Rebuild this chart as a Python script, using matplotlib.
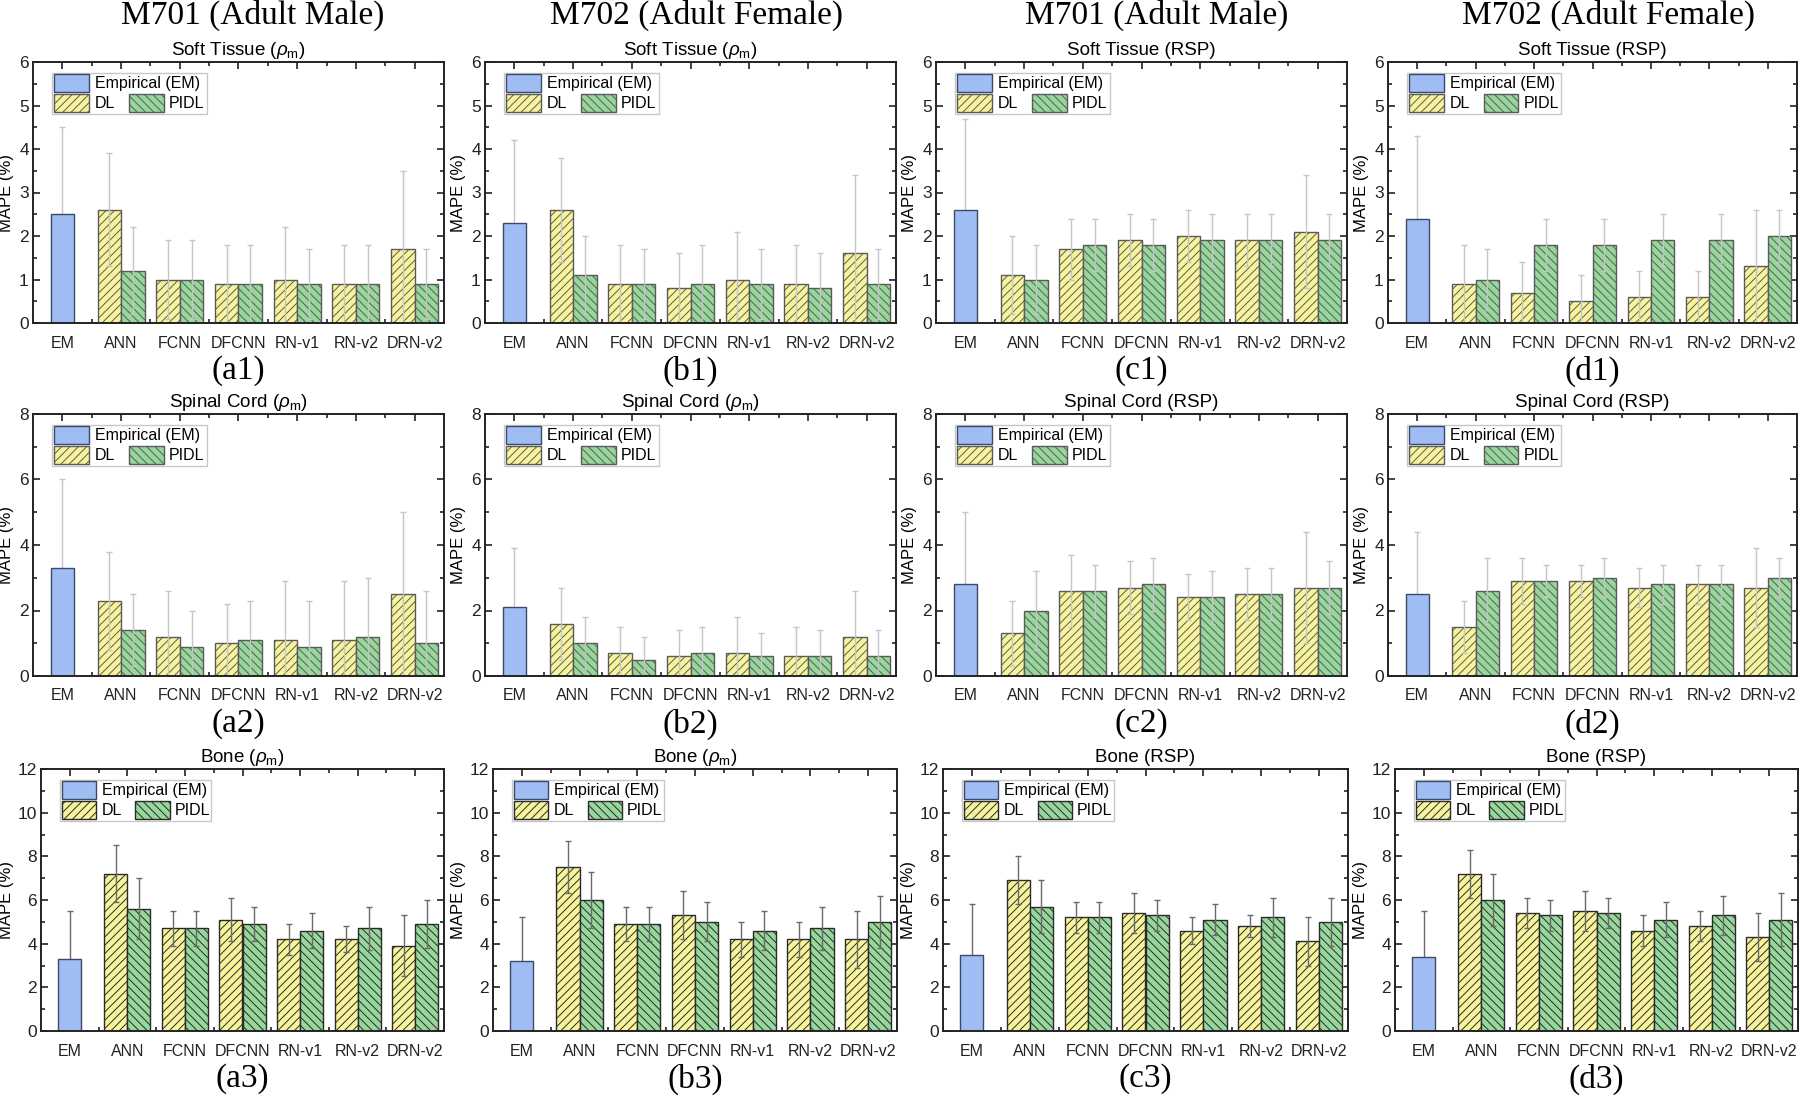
import matplotlib
matplotlib.use("Agg")
import matplotlib.pyplot as plt
from matplotlib.patches import Rectangle
from matplotlib.ticker import MultipleLocator, FixedLocator
import numpy as np

plt.rcParams['font.family'] = ['Liberation Sans', 'DejaVu Sans']
plt.rcParams['mathtext.fontset'] = 'custom'
plt.rcParams['mathtext.rm'] = 'Liberation Sans'
plt.rcParams['mathtext.it'] = 'Liberation Sans:italic'
plt.rcParams['hatch.linewidth'] = 0.7

# ---------------- data ----------------
categories = ["EM", "ANN", "FCNN", "DFCNN", "RN-v1", "RN-v2", "DRN-v2"]
column_titles = ["M701 (Adult Male)", "M702 (Adult Female)",
                 "M701 (Adult Male)", "M702 (Adult Female)"]
panel_titles = [
    [r"Soft Tissue ($\rho_\mathrm{m}$)", r"Soft Tissue ($\rho_\mathrm{m}$)", "Soft Tissue (RSP)", "Soft Tissue (RSP)"],
    [r"Spinal Cord ($\rho_\mathrm{m}$)", r"Spinal Cord ($\rho_\mathrm{m}$)", "Spinal Cord (RSP)", "Spinal Cord (RSP)"],
    [r"Bone ($\rho_\mathrm{m}$)", r"Bone ($\rho_\mathrm{m}$)", "Bone (RSP)", "Bone (RSP)"],
]
panel_labels = [["(a1)", "(b1)", "(c1)", "(d1)"],
                ["(a2)", "(b2)", "(c2)", "(d2)"],
                ["(a3)", "(b3)", "(c3)", "(d3)"]]

# Row 1: soft tissue
a1_em, a1_em_err = [2.5], [2.0]
a1_dl = [2.6, 1.0, 0.9, 1.0, 0.9, 1.7]
a1_dl_err = [1.3, 0.9, 0.9, 1.2, 0.9, 1.8]
a1_pidl = [1.2, 1.0, 0.9, 0.9, 0.9, 0.9]
a1_pidl_err = [1.0, 0.9, 0.9, 0.8, 0.9, 0.8]

b1_em, b1_em_err = [2.3], [1.9]
b1_dl = [2.6, 0.9, 0.8, 1.0, 0.9, 1.6]
b1_dl_err = [1.2, 0.9, 0.8, 1.1, 0.9, 1.8]
b1_pidl = [1.1, 0.9, 0.9, 0.9, 0.8, 0.9]
b1_pidl_err = [0.9, 0.8, 0.9, 0.8, 0.8, 0.8]

c1_em, c1_em_err = [2.6], [2.1]
c1_dl = [1.1, 1.7, 1.9, 2.0, 1.9, 2.1]
c1_dl_err = [0.9, 0.7, 0.6, 0.6, 0.6, 1.3]
c1_pidl = [1.0, 1.8, 1.8, 1.9, 1.9, 1.9]
c1_pidl_err = [0.8, 0.6, 0.6, 0.6, 0.6, 0.6]

d1_em, d1_em_err = [2.4], [1.9]
d1_dl = [0.9, 0.7, 0.5, 0.6, 0.6, 1.3]
d1_dl_err = [0.9, 0.7, 0.6, 0.6, 0.6, 1.3]
d1_pidl = [1.0, 1.8, 1.8, 1.9, 1.9, 2.0]
d1_pidl_err = [0.7, 0.6, 0.6, 0.6, 0.6, 0.6]

# Row 2: spinal cord
a2_em, a2_em_err = [3.3], [2.7]
a2_dl = [2.3, 1.2, 1.0, 1.1, 1.1, 2.5]
a2_dl_err = [1.5, 1.4, 1.2, 1.8, 1.8, 2.5]
a2_pidl = [1.4, 0.9, 1.1, 0.9, 1.2, 1.0]
a2_pidl_err = [1.1, 1.1, 1.2, 1.4, 1.8, 1.6]

b2_em, b2_em_err = [2.1], [1.8]
b2_dl = [1.6, 0.7, 0.6, 0.7, 0.6, 1.2]
b2_dl_err = [1.1, 0.8, 0.8, 1.1, 0.9, 1.4]
b2_pidl = [1.0, 0.5, 0.7, 0.6, 0.6, 0.6]
b2_pidl_err = [0.8, 0.7, 0.8, 0.7, 0.8, 0.8]

c2_em, c2_em_err = [2.8], [2.2]
c2_dl = [1.3, 2.6, 2.7, 2.4, 2.5, 2.7]
c2_dl_err = [1.0, 1.1, 0.8, 0.7, 0.8, 1.7]
c2_pidl = [2.0, 2.6, 2.8, 2.4, 2.5, 2.7]
c2_pidl_err = [1.2, 0.8, 0.8, 0.8, 0.8, 0.8]

d2_em, d2_em_err = [2.5], [1.9]
d2_dl = [1.5, 2.9, 2.9, 2.7, 2.8, 2.7]
d2_dl_err = [0.8, 0.7, 0.5, 0.6, 0.6, 1.2]
d2_pidl = [2.6, 2.9, 3.0, 2.8, 2.8, 3.0]
d2_pidl_err = [1.0, 0.5, 0.6, 0.6, 0.6, 0.6]

# Row 3: bone
a3_em, a3_em_err = [3.3], [2.2]
a3_dl = [7.2, 4.7, 5.1, 4.2, 4.2, 3.9]
a3_dl_err = [1.3, 0.8, 1.0, 0.7, 0.6, 1.4]
a3_pidl = [5.6, 4.7, 4.9, 4.6, 4.7, 4.9]
a3_pidl_err = [1.4, 0.8, 0.8, 0.8, 1.0, 1.1]

b3_em, b3_em_err = [3.2], [2.0]
b3_dl = [7.5, 4.9, 5.3, 4.2, 4.2, 4.2]
b3_dl_err = [1.2, 0.8, 1.1, 0.8, 0.8, 1.3]
b3_pidl = [6.0, 4.9, 5.0, 4.6, 4.7, 5.0]
b3_pidl_err = [1.3, 0.8, 0.9, 0.9, 1.0, 1.2]

c3_em, c3_em_err = [3.5], [2.3]
c3_dl = [6.9, 5.2, 5.4, 4.6, 4.8, 4.1]
c3_dl_err = [1.1, 0.7, 0.9, 0.6, 0.5, 1.1]
c3_pidl = [5.7, 5.2, 5.3, 5.1, 5.2, 5.0]
c3_pidl_err = [1.2, 0.7, 0.7, 0.7, 0.9, 1.1]

d3_em, d3_em_err = [3.4], [2.1]
d3_dl = [7.2, 5.4, 5.5, 4.6, 4.8, 4.3]
d3_dl_err = [1.1, 0.7, 0.9, 0.7, 0.7, 1.1]
d3_pidl = [6.0, 5.3, 5.4, 5.1, 5.3, 5.1]
d3_pidl_err = [1.2, 0.7, 0.7, 0.8, 0.9, 1.2]

panels = [
    [(a1_em, a1_em_err, a1_dl, a1_dl_err, a1_pidl, a1_pidl_err),
     (b1_em, b1_em_err, b1_dl, b1_dl_err, b1_pidl, b1_pidl_err),
     (c1_em, c1_em_err, c1_dl, c1_dl_err, c1_pidl, c1_pidl_err),
     (d1_em, d1_em_err, d1_dl, d1_dl_err, d1_pidl, d1_pidl_err)],
    [(a2_em, a2_em_err, a2_dl, a2_dl_err, a2_pidl, a2_pidl_err),
     (b2_em, b2_em_err, b2_dl, b2_dl_err, b2_pidl, b2_pidl_err),
     (c2_em, c2_em_err, c2_dl, c2_dl_err, c2_pidl, c2_pidl_err),
     (d2_em, d2_em_err, d2_dl, d2_dl_err, d2_pidl, d2_pidl_err)],
    [(a3_em, a3_em_err, a3_dl, a3_dl_err, a3_pidl, a3_pidl_err),
     (b3_em, b3_em_err, b3_dl, b3_dl_err, b3_pidl, b3_pidl_err),
     (c3_em, c3_em_err, c3_dl, c3_dl_err, c3_pidl, c3_pidl_err),
     (d3_em, d3_em_err, d3_dl, d3_dl_err, d3_pidl, d3_pidl_err)],
]

row_ymax = [6, 8, 12]
row_major = [1, 2, 2]
row_minor = [0.5, 1, 1]

# ---------------- style ----------------
EM_FACE = '#9fbdf3'
EM_EDGE = '#3a4a66'
DL_FACE = '#f8f49c'
PIDL_FACE = '#97d79b'
row_edge = ['#5a5a5a', '#5a5a5a', '#2a2a2a']
row_err = ['#c6c6c6', '#c6c6c6', '#6a6a6a']

W, H = 1800, 1096
fig = plt.figure(figsize=(W / 100, H / 100), dpi=100)

row_px = [(62, 323), (414, 676), (769, 1031)]
col_px = [
    [(33, 444), (485, 896), (936, 1347), (1388, 1797)],
    [(33, 444), (485, 896), (936, 1347), (1388, 1797)],
    [(41, 444), (493, 897), (943, 1348), (1395, 1798)],
]
ylabel_off = [-19, -19, -27]
title_x = [253, 696, 1157, 1609]

bw = 0.4
x_em = np.array([0])
x_models = np.arange(1, len(categories))


def draw_legend(ax, edge):
    t = ax.transAxes
    ax.add_patch(Rectangle((0.046, 0.801), 0.377, 0.157, transform=t,
                           facecolor='white', edgecolor='#c8c8c8', lw=1.0, zorder=5))
    ax.add_patch(Rectangle((0.052, 0.886), 0.085, 0.068, transform=t,
                           facecolor=EM_FACE, edgecolor=EM_EDGE, lw=1.0, zorder=6))
    ax.add_patch(Rectangle((0.052, 0.808), 0.085, 0.068, transform=t,
                           facecolor=DL_FACE, edgecolor=edge, hatch='////', lw=1.0, zorder=6))
    ax.add_patch(Rectangle((0.234, 0.808), 0.085, 0.068, transform=t,
                           facecolor=PIDL_FACE, edgecolor=edge, hatch='\\\\\\\\', lw=1.0, zorder=6))
    ax.text(0.151, 0.918, "Empirical (EM)", transform=t, fontsize=11.5,
            va='center', ha='left', zorder=7)
    ax.text(0.151, 0.842, "DL", transform=t, fontsize=11.5,
            va='center', ha='left', zorder=7)
    ax.text(0.331, 0.842, "PIDL", transform=t, fontsize=11.5,
            va='center', ha='left', zorder=7)


for r in range(3):
    top, bot = row_px[r]
    for c in range(4):
        left, right = col_px[r][c]
        ax = fig.add_axes([left / W, 1 - bot / H, (right - left) / W, (bot - top) / H])
        em, em_err, dl, dl_err, pidl, pidl_err = panels[r][c]
        edge = row_edge[r]
        ecol = row_err[r]

        ax.errorbar(x_em, em, yerr=em_err, fmt='none', ecolor=ecol,
                    elinewidth=1.0, capsize=2.5, capthick=1.0, zorder=1.5)
        ax.bar(x_em, em, width=bw, color=EM_FACE, edgecolor=EM_EDGE, lw=1.0, zorder=2)
        ax.bar(x_models - bw / 2, dl, width=bw, color=DL_FACE, edgecolor=edge,
               hatch='////', lw=1.0, zorder=2)
        ax.bar(x_models + bw / 2, pidl, width=bw, color=PIDL_FACE, edgecolor=edge,
               hatch='\\\\\\\\', lw=1.0, zorder=2)
        ax.errorbar(x_models - bw / 2, dl, yerr=dl_err, fmt='none', ecolor=ecol,
                    elinewidth=1.0, capsize=2.5, capthick=1.0, zorder=3)
        ax.errorbar(x_models + bw / 2, pidl, yerr=pidl_err, fmt='none', ecolor=ecol,
                    elinewidth=1.0, capsize=2.5, capthick=1.0, zorder=3)

        ax.set_xlim(-0.5, len(categories) - 0.5)
        ax.set_ylim(0, row_ymax[r])
        ax.set_xticks(np.arange(len(categories)))
        ax.set_xticklabels(categories)
        ax.xaxis.set_minor_locator(FixedLocator(np.arange(len(categories) - 1) + 0.5))
        ax.yaxis.set_major_locator(MultipleLocator(row_major[r]))
        ax.yaxis.set_minor_locator(MultipleLocator(row_minor[r]))
        ax.tick_params(axis='both', which='both', direction='in', top=True, right=True,
                       width=1.2, colors='#222222')
        ax.tick_params(axis='both', which='major', length=5, labelsize=12.5)
        ax.tick_params(axis='both', which='minor', length=3)
        ax.tick_params(axis='x', which='major', pad=9, labelsize=11.5)
        ax.tick_params(axis='y', which='major', pad=3)
        for sp in ax.spines.values():
            sp.set_linewidth(1.4)
            sp.set_color('#222222')
            sp.set_zorder(4)

        ax.set_ylabel("MAPE (%)", fontsize=12)
        ax.yaxis.set_label_coords(ylabel_off[r] / (right - left), 0.5)
        ax.set_title(panel_titles[r][c], fontsize=13.5, pad=5)

        draw_legend(ax, edge)

        fig.text((left + right) / 2 / W, 1 - (bot + 48) / H, panel_labels[r][c],
                 family='Liberation Serif', fontsize=24, ha='center', va='center')

for c in range(4):
    fig.text(title_x[c] / W, 1 - 15 / H, column_titles[c], family='Liberation Serif',
             fontsize=24, ha='center', va='center')

fig.savefig("out.png", dpi=100, facecolor='white')
